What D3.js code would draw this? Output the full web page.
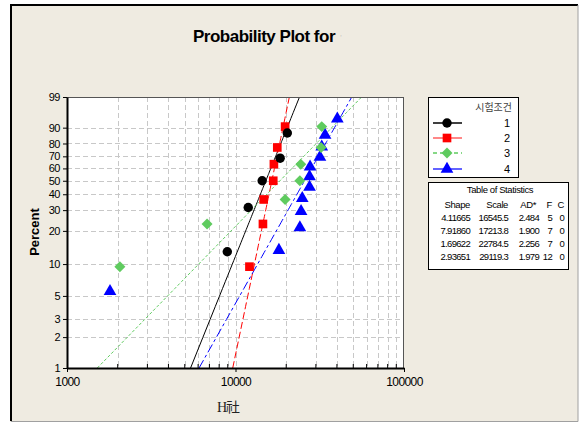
<!DOCTYPE html>
<html><head><meta charset="utf-8">
<script src="https://cdn.jsdelivr.net/npm/d3@7/dist/d3.min.js"></script>
<style>body{margin:0;background:#fff}svg{display:block}</style>
</head><body>
<svg id="c" width="585" height="425"></svg>
<script>
// ---- data ----
const groups = ["1","2","3","4"];
const shapeParams = [4.11665, 7.91860, 1.69622, 2.93651];
const scaleParams = [16545.5, 17213.8, 22784.5, 29119.3];
const adStats = ["2.484","1.900","2.256","1.979"];
const failures = [5, 7, 7, 12];
const censored = [0, 0, 0, 0];
const shapeLabels = ["4.11665","7.91860","1.69622","2.93651"];
const scaleLabels = ["16545.5","17213.8","22784.5","29119.3"];
const g1x = [8940, 11900, 14400, 18400, 20300];
const g1p = [13.0, 31.5, 50.0, 68.5, 87.0];
const g2x = [12100, 14550, 14700, 16750, 16900, 17700, 19700];
const g2p = [9.46, 22.97, 36.49, 50.0, 63.51, 77.03, 90.54];
const g3x = [2060, 6780, 19700, 24100, 24400, 32200, 32500];
const g3p = [9.46, 22.97, 36.49, 50.0, 63.51, 77.03, 90.54];
const g4x = [1800, 18100, 24100, 24500, 24900, 27500, 27500, 27700, 31700, 32500, 34000, 40200];
const g4p = [5.65, 13.71, 21.77, 29.84, 37.90, 45.97, 54.03, 62.10, 70.16, 78.23, 86.29, 94.35];
const xTicks = [1000, 10000, 100000];
const xMinor = [2000,3000,4000,5000,6000,7000,8000,9000,20000,30000,40000,50000,60000,70000,80000,90000];
const yTicks = [1,2,3,5,10,20,30,40,50,60,70,80,90,99];

const colors = ["#000000","#FF0000","#5FCB5F","#0000FF"];
const dashes = [null, "7,3", "3,2", "9,3,3,3"];
const wideDiamond = { draw(ctx, size){ const r=Math.sqrt(size/2); ctx.moveTo(0,-r); ctx.lineTo(r,0); ctx.lineTo(0,r); ctx.lineTo(-r,0); ctx.closePath(); } };
const symbols = [d3.symbolCircle, d3.symbolSquare, wideDiamond, d3.symbolTriangle];
const symSize = [70, 75, 60, 70];

const svg = d3.select("#c");
const W=585,H=425;
svg.append("rect").attr("x",0).attr("y",0).attr("width",W).attr("height",H).attr("fill","#fff");
svg.append("rect").attr("x",10).attr("y",4).attr("width",568).attr("height",418).attr("fill","#EFEBE1");
svg.append("path").attr("d","M11,421V5H578").attr("fill","none").attr("stroke","#000").attr("stroke-width",2);
svg.append("path").attr("d","M578,5V421.5H11").attr("fill","none").attr("stroke","#A0A0A0").attr("stroke-width",1);

const L=67,R=404,T=97,B=368;
const wb = p => Math.log(-Math.log(1 - p/100));
const x = d3.scaleLog().domain([1000,100000]).range([L,R]);
const y = d3.scaleLinear().domain([wb(1), wb(99)]).range([B,T]);

svg.append("rect").attr("x",L).attr("y",T).attr("width",R-L).attr("height",B-T).attr("fill","#fff");

// grid
const grid = svg.append("g").attr("stroke","#C8C8C8").attr("stroke-dasharray","5,3").attr("stroke-width",1);
xMinor.concat([10000]).forEach(v=>{
  grid.append("line").attr("x1",Math.round(x(v))+0.5).attr("x2",Math.round(x(v))+0.5).attr("y1",T).attr("y2",B);
});
yTicks.filter(v=>v>1&&v<99).forEach(v=>{
  grid.append("line").attr("x1",L).attr("x2",R).attr("y1",Math.round(y(wb(v)))+0.5).attr("y2",Math.round(y(wb(v)))+0.5);
});

svg.append("clipPath").attr("id","pc").append("rect").attr("x",L).attr("y",T).attr("width",R-L).attr("height",B-T);

// fitted lines
const pgrid = d3.range(0,101).map(i=>1+i*0.98);
groups.forEach((g,i)=>{
  const line = d3.line().x(p=>x(Math.exp(Math.log(scaleParams[i]) + wb(p)/shapeParams[i]))).y(p=>y(wb(p)));
  svg.append("path").attr("clip-path","url(#pc)").attr("d",line(pgrid)).attr("fill","none")
    .attr("stroke",colors[i]).attr("stroke-width",1).attr("stroke-dasharray",dashes[i]);
});

// points
const xs=[g1x,g2x,g3x,g4x], ps=[g1p,g2p,g3p,g4p];
[3,2,1,0].forEach(i=>{
  xs[i].forEach((v,k)=>{
    const tx=x(v), ty=y(wb(ps[i][k])) + (i===3?1:0);
    svg.append("path").attr("d",d3.symbol().type(symbols[i]).size(symSize[i])())
      .attr("transform",`translate(${tx},${ty})`).attr("fill",colors[i]);
  });
});

// axes frame
svg.append("line").attr("x1",L).attr("x2",R).attr("y1",T+0.5).attr("y2",T+0.5).attr("stroke","#555");
svg.append("line").attr("x1",R-0.5).attr("x2",R-0.5).attr("y1",T).attr("y2",B).attr("stroke","#555");
const xa = svg.append("g").attr("transform",`translate(0,${B})`)
  .call(d3.axisBottom(x).tickValues(xTicks).tickFormat(d3.format("d")).tickSize(4).tickSizeOuter(0));
xa.select(".domain").attr("stroke-width",2);
xa.selectAll("text").attr("font-family","Liberation Sans, Arial, sans-serif").attr("font-size",12).attr("fill","#000").attr("dy","0.9em").attr("letter-spacing","-0.6");
svg.append("g").attr("stroke","#000").selectAll("line").data(xMinor).join("line")
  .attr("x1",d=>x(d)).attr("x2",d=>x(d)).attr("y1",B).attr("y2",B-4);
const ya = svg.append("g").attr("transform",`translate(${L},0)`)
  .call(d3.axisLeft(y).tickValues(yTicks.map(wb)).tickFormat((d,i)=>yTicks[i]).tickSize(4).tickSizeOuter(0));
ya.select(".domain").attr("stroke-width",2);
ya.selectAll("text").attr("font-family","Liberation Sans, Arial, sans-serif").attr("font-size",11).attr("fill","#000").attr("letter-spacing","-0.5");

// titles
svg.append("text").attr("x",264).attr("y",42).attr("text-anchor","middle")
  .attr("font-family","Liberation Sans, Arial, sans-serif").attr("font-weight","bold").attr("font-size",17)
  .attr("letter-spacing","-0.5").text("Probability Plot for");
svg.append("text").attr("x",340).attr("y",38).attr("font-size",6).attr("fill","#888").attr("font-family","DejaVu Sans").text("·");
svg.append("text").attr("transform","translate(39,232) rotate(-90)").attr("text-anchor","middle")
  .attr("font-family","Liberation Sans, Arial, sans-serif").attr("font-weight","bold").attr("font-size",13).text("Percent");
svg.append("text").attr("x",228).attr("y",412).attr("text-anchor","middle")
  .attr("font-family","Liberation Serif, 'Noto Sans CJK KR', serif").attr("font-size",14).attr("fill","#222").attr("letter-spacing","-1").text("H社");

// legend
const lg = svg.append("g");
lg.append("rect").attr("x",428.5).attr("y",97.5).attr("width",90).attr("height",80).attr("fill","#fff").attr("stroke","#000");
lg.append("text").attr("x",512).attr("y",111).attr("text-anchor","end").attr("font-family","'Noto Sans CJK KR', sans-serif")
  .attr("font-size",10).attr("fill","#444").text("시험조건");
const ly=[123,138,153,169];
groups.forEach((g,i)=>{
  lg.append("line").attr("x1",433).attr("x2",462).attr("y1",ly[i]).attr("y2",ly[i]).attr("stroke",i===1?"#FF6060":colors[i]==="#0000FF"?"#3030FF":colors[i])
    .attr("stroke-width",1.5).attr("stroke-dasharray",i===0||i===1?null:(i===2?"4,3":"14,4,4,0"));
  lg.append("path").attr("d",d3.symbol().type(symbols[i]).size(symSize[i])()).attr("transform",`translate(447,${ly[i]})`).attr("fill",colors[i]);
  lg.append("text").attr("x",510).attr("y",ly[i]+4).attr("text-anchor","end").attr("font-family","Liberation Sans, Arial, sans-serif").attr("font-size",11).text(g);
});

// statistics table
const st = svg.append("g").attr("font-family","Liberation Sans, Arial, sans-serif").attr("font-size",9.5).attr("fill","#000");
st.append("rect").attr("x",428.5).attr("y",182.5).attr("width",140).attr("height",87).attr("fill","#fff").attr("stroke","#000");
st.append("text").attr("x",500).attr("y",193).attr("text-anchor","middle").attr("letter-spacing","-0.4").text("Table of Statistics");
const cols=[470,508,536,552,564];
["Shape","Scale","AD*","F","C"].forEach((h,j)=>st.append("text").attr("x",cols[j]).attr("y",208).attr("text-anchor","end").attr("letter-spacing","-0.4").text(h));
const ry=[221,234,247,260];
groups.forEach((g,i)=>{
  const row=[shapeLabels[i],scaleLabels[i],adStats[i],failures[i],censored[i]];
  row.forEach((v,j)=>st.append("text").attr("x",j===2?539:cols[j]).attr("y",ry[i]).attr("text-anchor","end").attr("letter-spacing","-0.7").text(v));
});
</script>
</body></html>
